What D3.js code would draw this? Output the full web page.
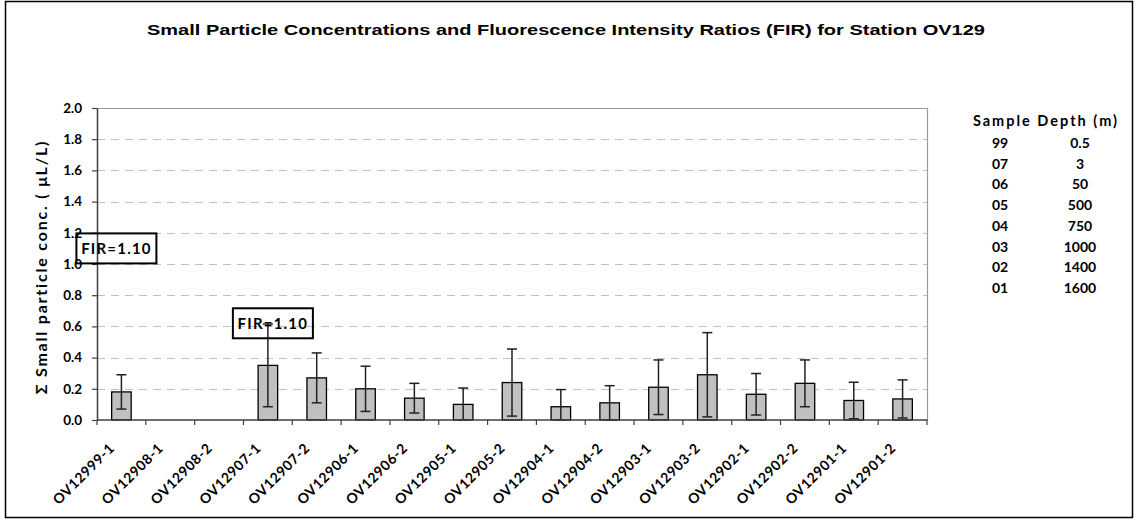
<!DOCTYPE html>
<html>
<head>
<meta charset="utf-8">
<script src="https://cdn.jsdelivr.net/npm/d3@7"></script>
<style>
  body { margin: 0; background: #fff; }
</style>
</head>
<body>
<div id="chart"></div>
<script>
'use strict';

// sample names along the x axis
const samples = ['OV12999-1', 'OV12908-1', 'OV12908-2', 'OV12907-1', 'OV12907-2', 'OV12906-1',
    'OV12906-2', 'OV12905-1', 'OV12905-2', 'OV12904-1', 'OV12904-2', 'OV12903-1',
    'OV12903-2', 'OV12902-1', 'OV12902-2', 'OV12901-1', 'OV12901-2'];

// sum of small particle concentrations (uL/L)
const concValues = [0.18, 0, 0, 0.35, 0.27, 0.20, 0.14, 0.10, 0.24, 0.085, 0.11, 0.21,
    0.29, 0.165, 0.235, 0.125, 0.135];

// error bar half-widths (uL/L)
const concErrors = [0.11, 0, 0, 0.265, 0.16, 0.145, 0.095, 0.105, 0.215, 0.11, 0.11, 0.175,
    0.27, 0.133, 0.15, 0.117, 0.122];

const yTicks = [0, 0.2, 0.4, 0.6, 0.8, 1.0, 1.2, 1.4, 1.6, 1.8, 2.0];

// FIR callouts: sample index, value level, label
const firNotes = [
    { idx: 0, y: 1.10, dx: -5, label: 'FIR=1.10' },
    { idx: 3, y: 0.62, dx: 5, label: 'FIR=1.10' }
];

// sample code / depth key on the right
const sampleCodes = ['99', '07', '06', '05', '04', '03', '02', '01'];
const sampleDepths = ['0.5', '3', '50', '500', '750', '1000', '1400', '1600'];

const bodyFont = 'Lato, "Open Sans", sans-serif';
const width = 1135;
const height = 520;
const plot = { left: 97, right: 927, top: 108, bottom: 420 };

const svg = d3.select('#chart')
    .append('svg')
    .attr('width', width)
    .attr('height', height)
    .style('font-family', bodyFont);

// outer chart border
svg.append('rect')
    .attr('x', 5.5)
    .attr('y', 1.5)
    .attr('width', 1127)
    .attr('height', 516)
    .attr('fill', 'none')
    .attr('stroke', '#000')
    .attr('stroke-width', 1.5);

svg.append('text')
    .attr('x', 566)
    .attr('y', 35)
    .attr('text-anchor', 'middle')
    .style('font-family', '"Liberation Sans", Arial, sans-serif')
    .attr('font-size', 15.5)
    .attr('font-weight', 700)
    .attr('textLength', 838)
    .attr('lengthAdjust', 'spacingAndGlyphs')
    .attr('fill', '#000')
    .text('Small Particle Concentrations and Fluorescence Intensity Ratios (FIR) for Station OV129');

const xScale = d3.scaleBand()
    .domain(samples)
    .range([plot.left, plot.right])
    .paddingInner(0.6)
    .paddingOuter(0.3);

const bandStep = (plot.right - plot.left) / samples.length;

const yScale = d3.scaleLinear()
    .domain([0, 2])
    .range([plot.bottom, plot.top]);

// dashed gridlines
svg.append('g')
    .selectAll('line')
    .data(yTicks.filter(function (d) { return d > 0 && d < 2; }))
    .join('line')
    .attr('x1', plot.left)
    .attr('x2', plot.right)
    .attr('y1', function (d) { return Math.round(yScale(d)) + 0.5; })
    .attr('y2', function (d) { return Math.round(yScale(d)) + 0.5; })
    .attr('stroke', '#c0c0c0')
    .attr('stroke-dasharray', '8,6');

// plot area top and right edges
svg.append('path')
    .attr('d', `M${plot.left},${yScale(2) + 0.5}H${plot.right + 0.5}V${plot.bottom}`)
    .attr('fill', 'none')
    .attr('stroke', '#9a9a9a')
    .attr('stroke-width', 1.2);

// y axis
const yAxis = d3.axisLeft(yScale)
    .tickValues(yTicks)
    .tickFormat(d3.format('.1f'))
    .tickSizeInner(5)
    .tickSizeOuter(0)
    .tickPadding(10);

const yAxisG = svg.append('g')
    .attr('transform', `translate(${plot.left},0)`)
    .call(yAxis);

yAxisG.select('.domain').attr('stroke', '#404040').attr('stroke-width', 1.5);
yAxisG.selectAll('.tick line').attr('stroke', '#404040').attr('stroke-width', 1.2);
yAxisG.selectAll('.tick text')
    .attr('font-size', 13.5)
    .attr('font-weight', 700)
    .attr('fill', '#000')
    .style('font-family', bodyFont);

svg.append('text')
    .attr('transform', `translate(47,${(plot.top + plot.bottom) / 2 + 3}) rotate(-90)`)
    .attr('text-anchor', 'middle')
    .attr('font-size', 16)
    .attr('font-weight', 700)
    .attr('letter-spacing', 1.8)
    .attr('fill', '#000')
    .text('\u03A3 Small particle conc. ( \u03BCL/L)');

// bars
svg.append('g')
    .selectAll('rect')
    .data(samples)
    .join('rect')
    .attr('x', function (d) { return xScale(d); })
    .attr('y', function (d, i) { return yScale(concValues[i]); })
    .attr('width', xScale.bandwidth())
    .attr('height', function (d, i) { return plot.bottom - yScale(concValues[i]); })
    .attr('fill', '#c0c0c0')
    .attr('stroke', '#000')
    .attr('stroke-width', 1.3);

// error bars
const errG = svg.append('g')
    .attr('stroke', '#222')
    .attr('stroke-width', 1.5);

samples.forEach(function (s, i) {
    if (concValues[i] === 0) {
        return;
    }
    const cx = xScale(s) + xScale.bandwidth() / 2;
    const hi = yScale(concValues[i] + concErrors[i]);
    const lo = yScale(Math.max(0, concValues[i] - concErrors[i]));
    errG.append('line').attr('x1', cx).attr('x2', cx).attr('y1', hi).attr('y2', lo);
    errG.append('line').attr('x1', cx - 5).attr('x2', cx + 5).attr('y1', hi).attr('y2', hi);
    errG.append('line').attr('x1', cx - 5).attr('x2', cx + 5).attr('y1', lo).attr('y2', lo);
});

// x axis with ticks between categories
svg.append('line')
    .attr('x1', plot.left)
    .attr('x2', plot.right + 0.5)
    .attr('y1', plot.bottom)
    .attr('y2', plot.bottom)
    .attr('stroke', '#404040')
    .attr('stroke-width', 1.5);

svg.append('g')
    .selectAll('line')
    .data(d3.range(samples.length + 1))
    .join('line')
    .attr('x1', function (i) { return plot.left + i * bandStep; })
    .attr('x2', function (i) { return plot.left + i * bandStep; })
    .attr('y1', plot.bottom)
    .attr('y2', plot.bottom + 5)
    .attr('stroke', '#404040')
    .attr('stroke-width', 1.2);

svg.append('g')
    .selectAll('text')
    .data(samples)
    .join('text')
    .attr('transform', function (d) {
        const cx = xScale(d) + xScale.bandwidth() / 2;
        return `translate(${cx - 6},${plot.bottom + 29}) rotate(-45)`;
    })
    .attr('text-anchor', 'end')
    .attr('font-size', 14)
    .attr('font-weight', 700)
    .attr('letter-spacing', 0.6)
    .attr('fill', '#000')
    .text(function (d) { return d; });

// FIR callouts
const firG = svg.append('g')
    .selectAll('g')
    .data(firNotes)
    .join('g')
    .attr('transform', function (d) {
        const cx = xScale(samples[d.idx]) + xScale.bandwidth() / 2 + d.dx;
        return `translate(${cx},${yScale(d.y)})`;
    });

firG.append('rect')
    .attr('x', -40)
    .attr('y', -15)
    .attr('width', 80)
    .attr('height', 30)
    .attr('fill', 'none')
    .attr('stroke', '#000')
    .attr('stroke-width', 2);

firG.append('text')
    .attr('text-anchor', 'middle')
    .attr('dy', 5.5)
    .attr('font-size', 15)
    .attr('font-weight', 700)
    .attr('letter-spacing', 1.2)
    .attr('fill', '#000')
    .text(function (d) { return d.label; });

// sample / depth key
const keyG = svg.append('g');

keyG.append('text')
    .attr('x', 1046)
    .attr('y', 126)
    .attr('text-anchor', 'middle')
    .attr('font-size', 14.5)
    .attr('font-weight', 700)
    .attr('letter-spacing', 2)
    .attr('fill', '#000')
    .text('Sample Depth (m)');

keyG.selectAll('text.code')
    .data(sampleCodes)
    .join('text')
    .attr('class', 'code')
    .attr('x', 1000)
    .attr('y', function (d, i) { return 148 + i * 20.7; })
    .attr('text-anchor', 'middle')
    .attr('font-size', 14)
    .attr('font-weight', 700)
    .attr('fill', '#000')
    .text(function (d) { return d; });

keyG.selectAll('text.depth')
    .data(sampleDepths)
    .join('text')
    .attr('class', 'depth')
    .attr('x', 1080)
    .attr('y', function (d, i) { return 148 + i * 20.7; })
    .attr('text-anchor', 'middle')
    .attr('font-size', 14)
    .attr('font-weight', 700)
    .attr('fill', '#000')
    .text(function (d) { return d; });
</script>
</body>
</html>
